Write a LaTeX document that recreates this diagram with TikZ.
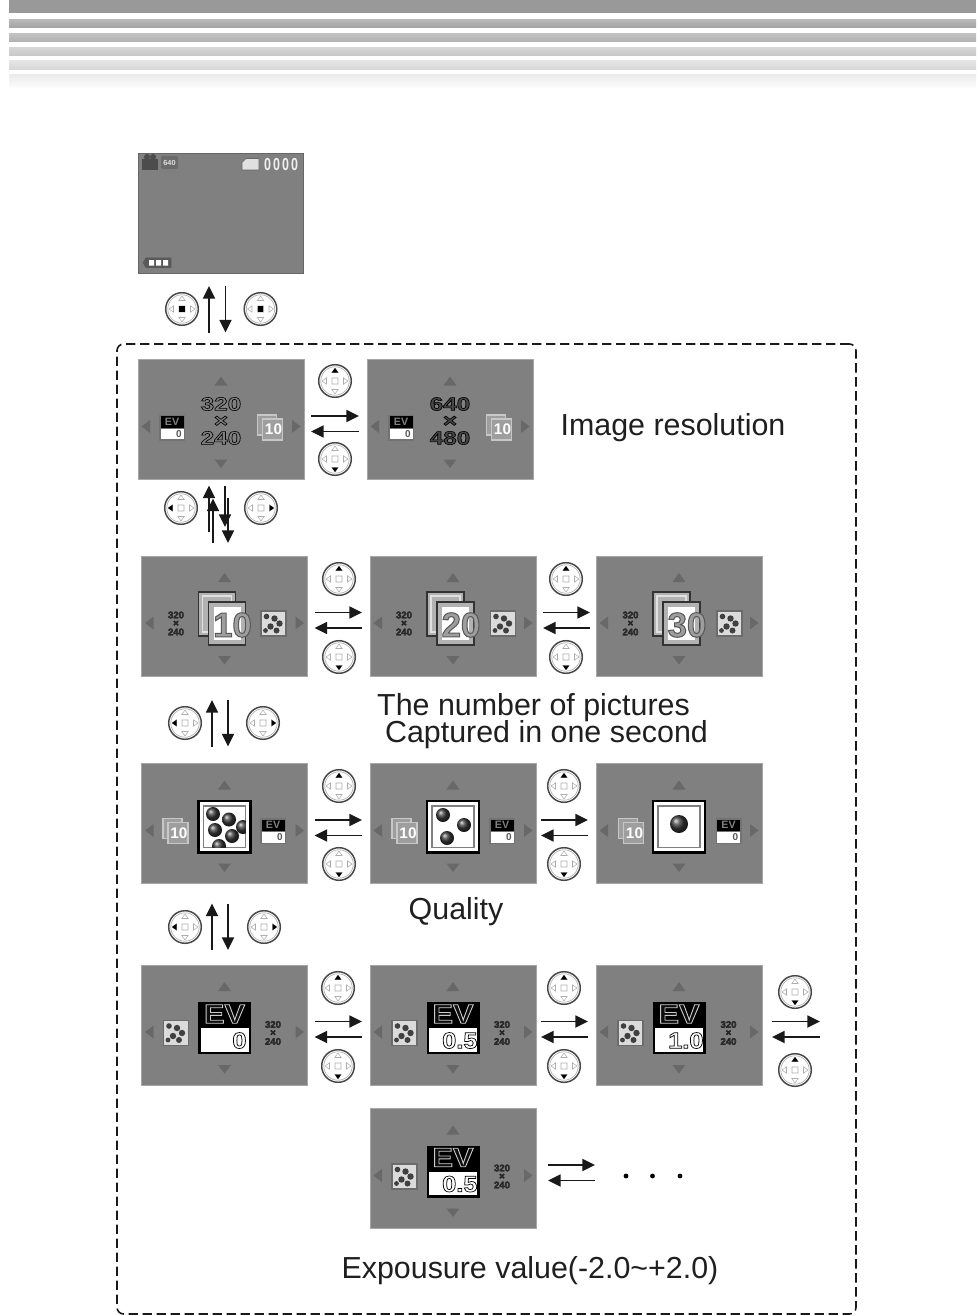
\documentclass[tikz,border=0pt]{standalone}
\usepackage{fontspec}
\setmainfont{Liberation Sans}
\newfontfamily\olfont[FakeBold=3]{Liberation Sans Bold}
\newfontfamily\blfont{Liberation Sans Bold}
\usetikzlibrary{calc,arrows.meta}
\tikzset{
  scr/.style={draw=gray!70,line width=.5pt,fill=scrgray,minimum width=124.5pt,minimum height=90pt,inner sep=0pt,outer sep=0pt},
  arr/.style={draw=black!90,line width=1.3pt,-{Triangle[length=9.5pt,width=9pt]}},
  lbl/.style={font=\fontsize{22.8pt}{26pt}\selectfont,inner sep=0pt,text=black!88},
  navtri/.style={fill=navgray},
  ic/.style={inner sep=0pt,outer sep=0pt},
}
\definecolor{scrgray}{HTML}{808080}
\definecolor{navgray}{HTML}{686868}
% outlined text: fill grey, stroke grey
\newcommand\olt[3]{\special{pdf:bc [#1] [#2]}#3\special{pdf:ec}}
\newcommand\ball[3]{\shade[ball color=black!78] (#1,#2) circle (#3);}
% navigation pad
\newcommand\padN{\fill[black] (0,-13)--(-3.2,-8.5)--(3.2,-8.5)--cycle;}
\newcommand\padS{\fill[black] (0,13)--(-3.2,8.5)--(3.2,8.5)--cycle;}
\newcommand\padW{\fill[black] (-13,0)--(-8.5,-3.2)--(-8.5,3.2)--cycle;}
\newcommand\padE{\fill[black] (13,0)--(8.5,-3.2)--(8.5,3.2)--cycle;}
\newcommand\padC{\fill[black] (-2.6,-2.6) rectangle (2.6,2.6);}
\newcommand\pad[3]{\begin{scope}[shift={(#1,#2)}]
  \draw[black!72,line width=1.1pt,fill=white] (0,0) circle (16.3);
  \draw[black!30,line width=.5pt] (0,0) circle (14.2);
  \draw[black!32,line width=.4pt] (0,-13)--(-3.2,-8.5)--(3.2,-8.5)--cycle (0,13)--(-3.2,8.5)--(3.2,8.5)--cycle (-13,0)--(-8.5,-3.2)--(-8.5,3.2)--cycle (13,0)--(8.5,-3.2)--(8.5,3.2)--cycle (-3,-3) rectangle (3,3);
  \csname pad#3\endcsname
\end{scope}}
% screen with four navigation triangles
\newcommand\screen[3]{\node[scr] (#1) at (#2,#3) {};
 \begin{scope}[shift={(#2,#3)}]
  \fill[navtri] (0,-43)--(-6.5,-34)--(6.5,-34)--cycle;
  \fill[navtri] (0,48.5)--(-6.5,40)--(6.5,40)--cycle;
  \fill[navtri] (-79.5,7)--(-71,.5)--(-71,13.5)--cycle;
  \fill[navtri] (79.5,7)--(71,.5)--(71,13.5)--cycle;
 \end{scope}}
% small icons
\newcommand\evsmall[3]{\begin{scope}[shift={(#2,#3)}]
  \fill[black!55] (-13,-13) rectangle (13,13);
  \fill[black] (-11.5,-11.5) rectangle (11.5,0);
  \fill[white] (-11.5,1) rectangle (11.5,11.5);
  \node[ic,text=black!50] (#1e) at (0,-6) {\blfont\fontsize{8pt}{8pt}\selectfont EV};
  \node[ic,text=black!65] (#1z) at (7,6.5) {\blfont\fontsize{7.5pt}{8pt}\selectfont 0};
\end{scope}}
\newcommand\burstsmall[3]{\begin{scope}[shift={(#2,#3)}]
  \draw[black!22,fill=black!38,line width=.8pt] (-12,-12) rectangle (7,8);
  \draw[black!22,fill=black!38,line width=.8pt] (-7,-8) rectangle (13,13);
  \node[ic,text=white] (#1t) at (4,2.5) {\blfont\fontsize{11.5pt}{12pt}\selectfont 10};
\end{scope}}
\newcommand\ressmall[3]{\begin{scope}[shift={(#2,#3)}]
  \node[ic] (#1a) at (0,-8.5) {\olfont\fontsize{7.2pt}{8pt}\selectfont\olt{0.2}{0.1}{320}};
  \node[ic] (#1b) at (0,0) {\olfont\fontsize{7.2pt}{8pt}\selectfont\olt{0.2}{0.1}{×}};
  \node[ic] (#1c) at (0,8.5) {\olfont\fontsize{7.2pt}{8pt}\selectfont\olt{0.2}{0.1}{240}};
\end{scope}}
\newcommand\qsmall[2]{\begin{scope}[shift={(#1,#2)}]
  \draw[black!58,fill=black!14,line width=1pt] (-12.5,-12.5) rectangle (12.5,12.5);
  \fill[black!75] (-7,-7) circle (2.8) (1,-5) circle (3.2) (-3,3) circle (3.2) (6,0) circle (3.2) (3,7) circle (3) (-8,7) circle (2.4);
\end{scope}}
% large icons
\newcommand\reslarge[6]{\begin{scope}[shift={(#2,#3)}]
  \node[ic] (#1a) at (0,-15.5) {\olfont\fontsize{14pt}{15pt}\selectfont\scalebox{1.3}[1]{\olt{#4}{0}{#5}}};
  \node[ic] (#1b) at (0,2) {\olfont\fontsize{14pt}{15pt}\selectfont\scalebox{1.3}[1]{\olt{#4}{0}{×}}};
  \node[ic] (#1c) at (0,18.5) {\olfont\fontsize{14pt}{15pt}\selectfont\scalebox{1.3}[1]{\olt{#4}{0}{#6}}};
\end{scope}}
\newcommand\burstlarge[5]{\begin{scope}[shift={(#2,#3)}]
  \draw[black!80,fill=black!30,line width=1pt] (-26,-24) rectangle (11,20);
  \draw[white!88!black,line width=1pt] (-22,-20) rectangle (7,16);
  \draw[black!80,fill=black!30,line width=1pt] (-16,-14) rectangle (21,29);
  \fill[white] (-11,-9) rectangle (16,24);
  \node[ic] (#1t) at (8,9) {\olfont\fontsize{26pt}{27pt}\selectfont\olt{#4}{0.35}{#5}};
\end{scope}}
\newcommand\qframe[2]{\begin{scope}[shift={(#1,#2)}]
  \draw[black,fill=white,line width=1.7pt] (-26,-22.5) rectangle (26,29);
  \draw[black!50,line width=.9pt] (-21,-17.5) rectangle (21,24);
\end{scope}}
\newcommand\evlarge[5]{\begin{scope}[shift={(#2,#3)}]
  \fill[black] (-26.5,-23) rectangle (26.5,29);
  \fill[white] (-24,3) rectangle (24,26.5);
  \node[ic] (#1e) at (0,-11) {\olfont\fontsize{20pt}{21pt}\selectfont\scalebox{1.15}[1]{\olt{0.05}{0.8}{EV}}};
  \node[ic,anchor=east] (#1v) at (#4,15.5) {\olfont\fontsize{17pt}{18pt}\selectfont\scalebox{1.12}[1]{\olt{1}{0}{#5}}};
\end{scope}}
% connectors
\newcommand\hpair[4]{%
  \draw[arr] ($(#1.east)+(#3,-3.5)$) -- ($(#2.west)+(#4,-3.5)$);
  \draw[arr] ($(#2.west)+(#4,12)$) -- ($(#1.east)+(#3,12)$);}
\newcommand\vup[5]{\path ($(#1.south)+(#3,#4)$) coordinate (p); \path ($(#2.north)+(0,-#5)$) coordinate (q);
  \draw[arr] (q -| p) -- (p);}
\newcommand\vdown[5]{\path ($(#1.south)+(#3,#4)$) coordinate (p); \path ($(#2.north)+(0,-#5)$) coordinate (q);
  \draw[arr] (p) -- (q -| p);}
\begin{document}
\begin{tikzpicture}[x=.75pt,y=-.75pt]
\useasboundingbox (0,0) rectangle (976,1316);
\fill[white] (0,0) rectangle (976,1316);
% header bands
\fill[black!40] (9,0) rectangle (976,13);
\fill[top color=black!28,bottom color=black!36] (9,20) rectangle (976,27.5);
\fill[top color=black!24,bottom color=black!30] (9,33.5) rectangle (976,41.5);
\fill[top color=black!16,bottom color=black!22] (9,47.5) rectangle (976,55.5);
\fill[top color=black!10,bottom color=black!16] (9,60.5) rectangle (976,69.5);
\fill[top color=black!8,bottom color=white] (9,74.5) rectangle (976,89);
% dashed frame
\node[draw=black!90,line width=1.2pt,dash pattern=on 7pt off 3.5pt,rounded corners=5pt,minimum width=554.25pt,minimum height=727.5pt,inner sep=0pt] (frame) at (486.5,829) {};
% top live-view screen
\node[draw=black!60,line width=.5pt,fill=scrgray,minimum width=123.75pt,minimum height=90pt,inner sep=0pt,outer sep=0pt] (top) at (220.5,213) {};
\fill[black!70] (142,159) rectangle (158,170);
\fill[black!70] (147,157) circle (3) (153,157) circle (3);
\fill[black!58,rounded corners=1pt] (161,156) rectangle (178,169);
\node[ic,text=black!12] (tres) at (169.5,162.5) {\blfont\fontsize{5.5pt}{6pt}\selectfont 640};
\draw[black!60,fill=black!12,line width=.5pt] (246,158.5)--(259,158.5)--(259,170)--(242,170)--(242,162.5)--cycle;
\node[ic,text=black!6] (tcnt) at (281,164.5) {\blfont\fontsize{13pt}{14pt}\selectfont\scalebox{0.72}[1]{0\,0\,0\,0}};
\draw[black!65,fill=black!65] (146,258)--(171,258)--(171,267.5)--(146,267.5)--(143,262.7)--cycle;
\fill[white] (149,260) rectangle (154,265.5) (156,260) rectangle (161,265.5) (163,260) rectangle (168,265.5);
% row 1
\screen{a1}{221}{419.5}
\screen{a2}{450}{419.5}
\evsmall{a1v}{172}{427.5}
\burstsmall{a1b}{269.5}{427}
\reslarge{a1r}{221}{419.5}{0.5}{320}{240}
\evsmall{a2v}{401}{427.5}
\burstsmall{a2b}{498.5}{427}
\reslarge{a2r}{450}{419.5}{0.28}{640}{480}
\node[lbl] (l1) at (673,428) {Image resolution};
% row 2
\screen{b1}{224.5}{616}
\screen{b2}{453}{616}
\screen{b3}{679}{616}
\ressmall{b1s}{176}{623.5}
\qsmall{273.5}{623.5}
\burstlarge{b1l}{224.5}{616}{0.62}{10}
\ressmall{b2s}{404}{623.5}
\qsmall{503}{623.5}
\burstlarge{b2l}{453}{616}{0.62}{20}
\ressmall{b3s}{630.5}{623.5}
\qsmall{729.5}{623.5}
\burstlarge{b3l}{679}{616}{0.62}{30}
\node[lbl] (l2a) at (533.5,708) {The number of pictures};
\node[lbl] (l2b) at (546.5,735) {Captured in one second};
% row 3
\screen{c1}{224.5}{823.5}
\screen{c2}{453}{823.5}
\screen{c3}{679}{823.5}
\burstsmall{c1b}{175}{830.5}
\evsmall{c1v}{273}{831}
\qframe{224.5}{823.5}
\begin{scope}
 \clip (203.5,806) rectangle (245.5,847.5);
 \ball{213}{814}{7}\ball{229}{819.5}{7}\ball{215}{830}{7}\ball{232}{836}{7}\ball{243}{827}{7}\ball{219}{846}{7}
\end{scope}
\burstsmall{c2b}{404}{830.5}
\evsmall{c2v}{502}{831}
\qframe{453}{823.5}
\ball{443}{815}{7}\ball{464}{825}{7}\ball{447}{838}{7}
\burstsmall{c3b}{630.5}{830.5}
\evsmall{c3v}{728.5}{831}
\qframe{679}{823.5}
\ball{679}{824}{9}
\node[lbl] (l3) at (456,912) {Quality};
% row 4
\screen{d1}{224.5}{1025}
\screen{d2}{453}{1025}
\screen{d3}{679}{1025}
\qsmall{176}{1033}
\ressmall{d1s}{273}{1033}
\evlarge{d1l}{224.5}{1025}{22}{0}
\qsmall{404.5}{1033}
\ressmall{d2s}{502}{1033}
\evlarge{d2l}{453}{1025}{24.5}{0.5}
\qsmall{630.5}{1033}
\ressmall{d3s}{728.5}{1033}
\evlarge{d3l}{679}{1025}{24.5}{1.0}
% row 5
\screen{e1}{453}{1168.5}
\qsmall{404.5}{1176.5}
\ressmall{e1s}{502}{1176.5}
\evlarge{e1l}{453}{1168.5}{24.5}{0.5}
\node[lbl] (l4) at (530,1271) {Expousure value(-2.0\char`~+2.0)};
\coordinate (f4) at (828,1025);
\coordinate (f5) at (603,1168.5);
\fill[black] (626,1176) circle (2.4) (652.5,1176) circle (2.4) (680,1176) circle (2.4);
% horizontal connectors
\hpair{a1}{a2}{7}{-8}
\hpair{b1}{b2}{7}{-8}
\hpair{b2}{b3}{7}{-6}
\hpair{c1}{c2}{7}{-8}
\hpair{c2}{c3}{5}{-8}
\hpair{d1}{d2}{7}{-8}
\hpair{d2}{d3}{5}{-8}
\hpair{d3}{f4}{10}{-8}
\hpair{e1}{f5}{12}{-8}
% vertical connectors
\vup{top}{a1}{-11.5}{13}{27}
\vdown{top}{a1}{5}{13}{27}
\vup{a1}{b1}{-8}{19}{13}
\vup{a1}{b1}{-12}{6}{24}
\vdown{a1}{b1}{4}{6}{29}
\vdown{a1}{b1}{7}{18}{13}
\vup{b1}{c1}{-12.5}{24}{17}
\vdown{b1}{c1}{3.5}{24}{17}
\vup{c1}{d1}{-12.5}{20}{15}
\vdown{c1}{d1}{3.5}{20}{15}
% pads
\pad{182}{309}{C} \pad{260.5}{309}{C}
\pad{335}{381}{N} \pad{335}{459}{S}
\pad{181}{508}{W} \pad{261}{508}{E}
\pad{339}{579}{N} \pad{339}{657}{S}
\pad{566}{579}{N} \pad{566}{657}{S}
\pad{185}{723}{W} \pad{263}{723}{E}
\pad{339}{786}{N} \pad{339}{864}{S}
\pad{564}{786}{N} \pad{564}{864}{S}
\pad{185}{927}{W} \pad{264}{927}{E}
\pad{338}{988}{N} \pad{338}{1066}{S}
\pad{564}{988}{N} \pad{564}{1066}{S}
\pad{795}{992}{S} \pad{795}{1070}{N}
\end{tikzpicture}
\end{document}
